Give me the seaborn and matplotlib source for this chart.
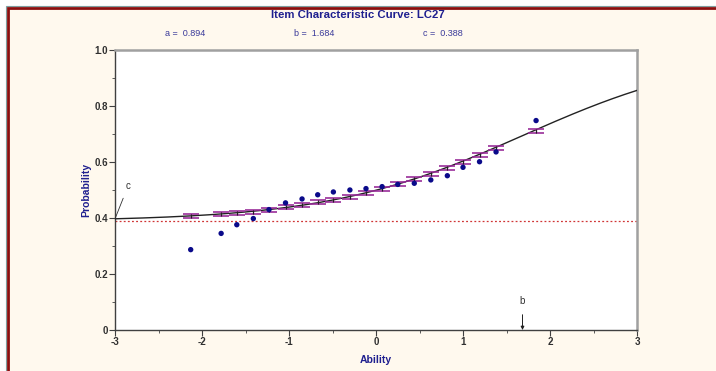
import numpy as np
import pandas as pd
import matplotlib
matplotlib.use("Agg")
import matplotlib.pyplot as plt
from matplotlib.patches import Rectangle
import seaborn as sns

# ---- data ----
title = "Item Characteristic Curve: LC27"
param_a = 0.894
param_b = 1.684
param_c = 0.388

ability = [-2.13, -1.78, -1.60, -1.41, -1.23, -1.04, -0.85, -0.67, -0.49, -0.30,
           -0.115, 0.07, 0.25, 0.44, 0.63, 0.82, 1.00, 1.19, 1.38, 1.84]
observed = [0.287, 0.345, 0.376, 0.398, 0.430, 0.454, 0.468, 0.483, 0.493, 0.500,
            0.505, 0.512, 0.520, 0.524, 0.536, 0.551, 0.581, 0.601, 0.636, 0.748]
model_at_points = [0.406, 0.413, 0.417, 0.421, 0.429, 0.438, 0.446, 0.456, 0.464, 0.476,
                   0.488, 0.505, 0.521, 0.538, 0.557, 0.577, 0.600, 0.625, 0.651, 0.712]
err_half = [0.007] * len(ability)

x_ticks = [-3, -2, -1, 0, 1, 2, 3]
x_ticklabels = ["-3", "-2", "-1", "0", "1", "2", "3"]
y_ticks = [0, 0.2, 0.4, 0.6, 0.8, 1.0]
y_ticklabels = ["0", "0.2", "0.4", "0.6", "0.8", "1.0"]

# ICC curve from the displayed 3PL parameters
theta_grid = np.linspace(-3, 3, 301)
icc = param_c + (1 - param_c) / (1 + np.exp(-param_a * (theta_grid - param_b)))

sns.set_theme(style="white")
plt.rcParams['font.family'] = ['Liberation Sans', 'DejaVu Sans']

W, H = 716, 371
fig = plt.figure(figsize=(W / 100, H / 100), dpi=100)
fig.patch.set_facecolor("white")

# frame
fig.patches.append(Rectangle((6.2 / W, -0.1), 1.2, 1.1 - 6.2 / H, transform=fig.transFigure,
                             facecolor="none", edgecolor="#7f9fa0", lw=0.8, zorder=-20))
fig.patches.append(Rectangle((8.3 / W, -0.1), 1.2, 1.1 - 8.3 / H, transform=fig.transFigure,
                             facecolor="#fff9ee", edgecolor="#8b0f0f", lw=2.0, zorder=-10))

ax = fig.add_axes([115 / W, 1 - 330 / H, 522 / W, 280 / H])
ax.set_zorder(5)
ax.set_facecolor("white")

navy = "#1f1f8f"

sns.lineplot(x=theta_grid, y=icc, ax=ax, color="#222222", lw=1.0, zorder=3)
ax.axhline(param_c, color="#d03535", lw=0.9, ls=(0, (1.5, 1.8)), zorder=2)
ax.errorbar(ability, model_at_points, yerr=err_half, fmt="none", ecolor="#9a2d9a",
            elinewidth=0.9, capsize=5.5, capthick=1.2, zorder=4)
ax.errorbar(ability, model_at_points, yerr=err_half, fmt="none", ecolor="#222222",
            elinewidth=0.8, capsize=0, zorder=5)
df = pd.DataFrame({"Ability": ability, "Observed": observed})
sns.scatterplot(data=df, x="Ability", y="Observed", ax=ax, color="#0a0a8a", s=15,
                edgecolor="none", zorder=6)

ax.set_xlim(-3, 3)
ax.set_ylim(0, 1.0)
ax.set_xticks(x_ticks)
ax.set_xticklabels(x_ticklabels)
ax.set_yticks(y_ticks)
ax.set_yticklabels(y_ticklabels)
ax.set_xticks(np.arange(-3, 3.01, 0.5), minor=True)
ax.set_yticks(np.arange(0, 1.01, 0.1), minor=True)
ax.tick_params(which="major", direction="out", length=4, width=0.8, color="#404040",
               labelsize=7, pad=1, bottom=True, left=True)
ax.tick_params(which="minor", direction="out", length=2.5, width=0.6, color="#404040",
               bottom=True, left=True)
for lab in ax.get_xticklabels() + ax.get_yticklabels():
    lab.set_fontweight("bold")
    lab.set_color("#303030")

for side in ["left", "bottom"]:
    ax.spines[side].set_color("#404040")
    ax.spines[side].set_linewidth(1.0)
for side in ["top", "right"]:
    ax.spines[side].set_color("#a0a0a0")
    ax.spines[side].set_linewidth(1.8)

ax.set_xlabel("Ability", fontsize=7.5, fontweight="bold", color=navy, labelpad=6)
ax.set_ylabel("Probability", fontsize=7.5, fontweight="bold", color=navy, labelpad=2)

# annotations
ax.annotate("c", xy=(-3, param_c + (1 - param_c) / (1 + np.exp(-param_a * (-3 - param_b)))),
            xytext=(-2.85, 0.514), fontsize=7, color="#303030", ha="center", va="center",
            arrowprops=dict(arrowstyle="-", color="#303030", lw=0.6, shrinkA=3, shrinkB=0),
            annotation_clip=False)
ax.annotate("b", xy=(param_b, 0), xytext=(param_b, 0.104), fontsize=7, color="#303030",
            ha="center", va="center",
            arrowprops=dict(arrowstyle="-|>", color="#202020", lw=0.7, mutation_scale=5,
                            shrinkA=4, shrinkB=0))

fig.text(358 / W, 1 - 15.5 / H, title, ha="center", va="center", fontsize=8.2,
         fontweight="bold", color=navy)
fig.text(185 / W, 1 - 34 / H, f"a =  {param_a:.3f}", ha="center", va="center",
         fontsize=6.5, color="#3a3a9a")
fig.text(314 / W, 1 - 34 / H, f"b =  {param_b:.3f}", ha="center", va="center",
         fontsize=6.5, color="#3a3a9a")
fig.text(443 / W, 1 - 34 / H, f"c =  {param_c:.3f}", ha="center", va="center",
         fontsize=6.5, color="#3a3a9a")

fig.savefig("out.png", dpi=100, facecolor=fig.get_facecolor())
